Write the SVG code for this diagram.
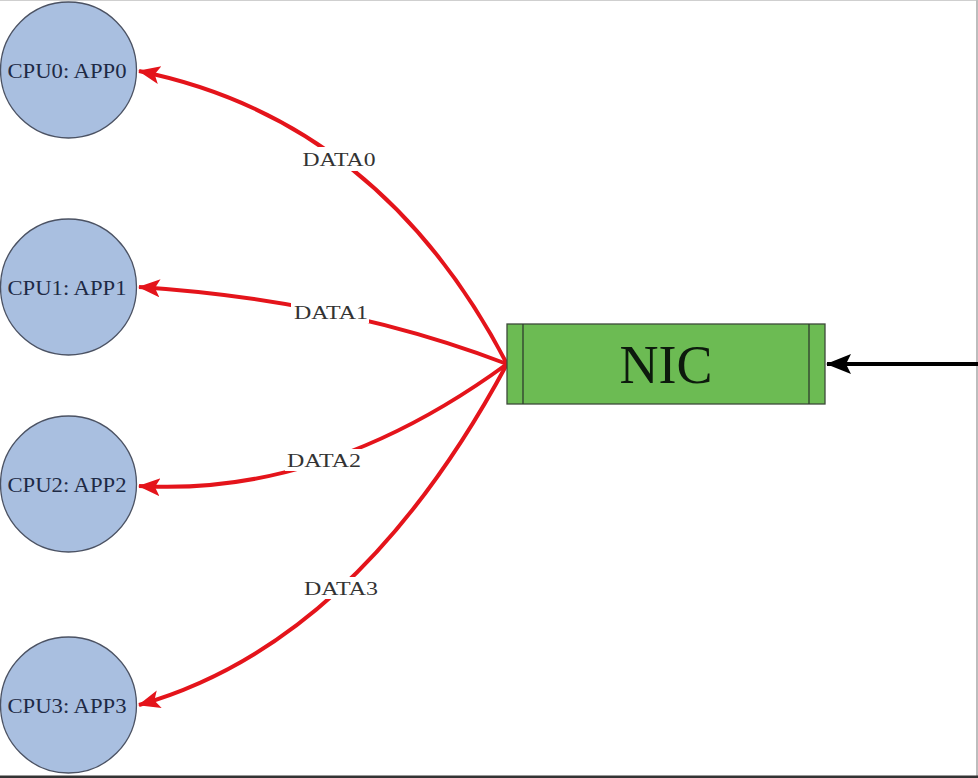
<svg xmlns="http://www.w3.org/2000/svg" width="978" height="778" viewBox="0 0 978 778">
<style>
.cpu circle{fill:#a9bfe0;stroke:#4b5263;stroke-width:1.3}
.cpu text{font-family:"Liberation Serif","Times New Roman",serif;font-size:21px;fill:#1e2a45;text-anchor:middle}
.edge{fill:none;stroke:#e4141b;stroke-width:4}
.lbl{font-family:"Liberation Serif","Times New Roman",serif;font-size:19px;fill:#333;text-anchor:middle}
.lblbg{fill:#fff}
</style>
<defs>
<marker id="ar" markerUnits="userSpaceOnUse" markerWidth="24" markerHeight="20" refX="21" refY="9" orient="auto">
<path d="M0,0 L22,9 L0,18 L5,9 Z" fill="#e4141b"/>
</marker>
<marker id="ab" markerUnits="userSpaceOnUse" markerWidth="26" markerHeight="22" refX="24" refY="10" orient="auto">
<path d="M0,0 L25,10 L0,20 L5,10 Z" fill="#000"/>
</marker>
</defs>
<rect x="0" y="0" width="978" height="778" fill="#fff"/>
<line x1="0" y1="0.5" x2="978" y2="0.5" stroke="#cfcfcf" stroke-width="1"/>
<line x1="977" y1="0" x2="977" y2="778" stroke="#bdbdbd" stroke-width="2"/>
<line x1="0" y1="777" x2="978" y2="777" stroke="#333" stroke-width="3"/>

<g id="connectors">
<path class="edge" d="M507,364 Q380,120 139,71" marker-end="url(#ar)"/>
<path class="edge" d="M507,364 Q340,300 139,287" marker-end="url(#ar)"/>
<path class="edge" d="M507,364 Q325,497 139,486" marker-end="url(#ar)"/>
<path class="edge" d="M507,364 Q357,643 139,705" marker-end="url(#ar)"/>
<path d="M978,364 L827,364" stroke="#000" stroke-width="4" fill="none" marker-end="url(#ab)"/>
<g id="label-data0"><rect class="lblbg" x="300" y="147" width="78" height="24"/><text class="lbl" x="339" y="166" textLength="73" lengthAdjust="spacingAndGlyphs">DATA0</text></g>
<g id="label-data1"><rect class="lblbg" x="291" y="301" width="78" height="22"/><text class="lbl" x="331" y="319" textLength="74" lengthAdjust="spacingAndGlyphs">DATA1</text></g>
<g id="label-data2"><rect class="lblbg" x="285" y="449" width="78" height="22"/><text class="lbl" x="324" y="467" textLength="74" lengthAdjust="spacingAndGlyphs">DATA2</text></g>
<g id="label-data3"><rect class="lblbg" x="302" y="577" width="78" height="22"/><text class="lbl" x="341" y="595" textLength="74" lengthAdjust="spacingAndGlyphs">DATA3</text></g>
</g>

<g id="cpu0" class="cpu"><circle cx="68.5" cy="70" r="68"/><text x="67" y="78" textLength="119" lengthAdjust="spacingAndGlyphs">CPU0: APP0</text></g>
<g id="cpu1" class="cpu"><circle cx="68.5" cy="287" r="68"/><text x="67" y="295" textLength="119" lengthAdjust="spacingAndGlyphs">CPU1: APP1</text></g>
<g id="cpu2" class="cpu"><circle cx="68.5" cy="484" r="68"/><text x="67" y="492" textLength="119" lengthAdjust="spacingAndGlyphs">CPU2: APP2</text></g>
<g id="cpu3" class="cpu"><circle cx="68.5" cy="705" r="68"/><text x="67" y="713" textLength="119" lengthAdjust="spacingAndGlyphs">CPU3: APP3</text></g>

<g id="nic">
<rect x="507" y="324" width="318" height="80" fill="#6cbb53" stroke="#3d4a3a" stroke-width="1.3"/>
<line x1="523" y1="324" x2="523" y2="404" stroke="#2f3d2d" stroke-width="1.3"/>
<line x1="809" y1="324" x2="809" y2="404" stroke="#2f3d2d" stroke-width="1.3"/>
<text x="666" y="383" font-family="'Liberation Serif','Times New Roman',serif" font-size="54" fill="#0d1a0d" text-anchor="middle">NIC</text>
</g>
</svg>
